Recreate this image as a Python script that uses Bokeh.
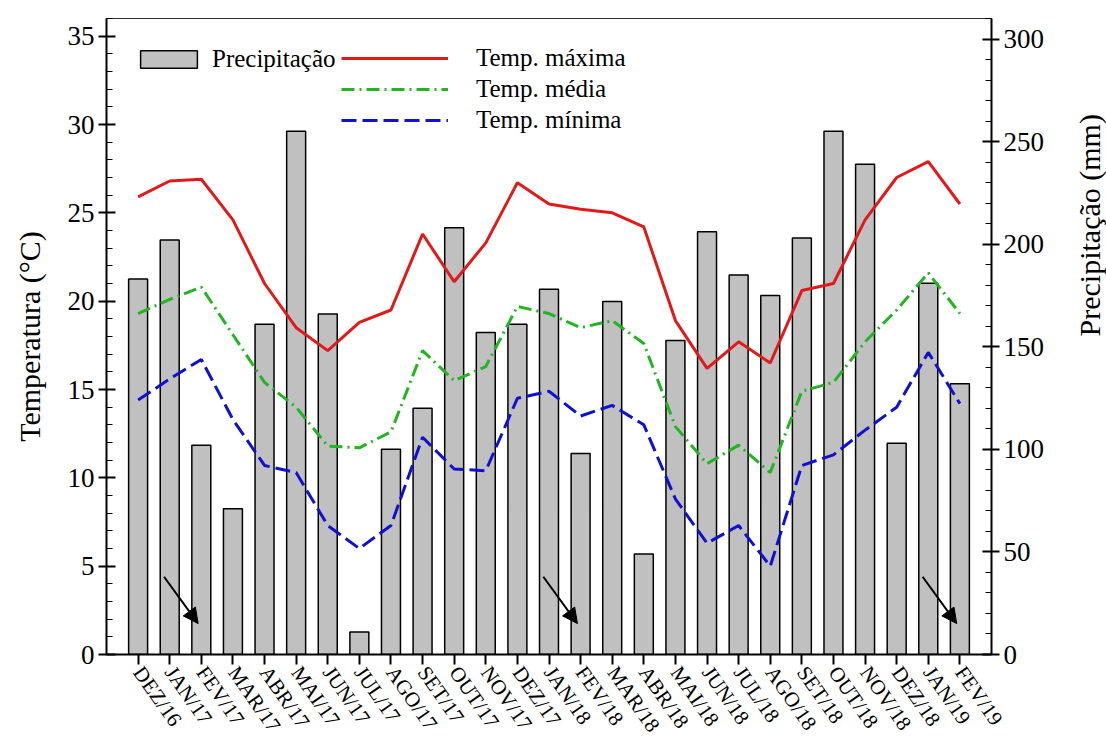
import math
from bokeh.plotting import figure
from bokeh.models import (Range1d, LinearAxis, FixedTicker, SingleIntervalTicker,
                          Legend, LegendItem, Arrow, NormalHead, ColumnDataSource)
from bokeh.embed import file_html
from bokeh.resources import INLINE

months = ["DEZ/16", "JAN/17", "FEV/17", "MAR/17", "ABR/17", "MAI/17", "JUN/17",
          "JUL/17", "AGO/17", "SET/17", "OUT/17", "NOV/17", "DEZ/17", "JAN/18",
          "FEV/18", "MAR/18", "ABR/18", "MAI/18", "JUN/18", "JUL/18", "AGO/18",
          "SET/18", "OUT/18", "NOV/18", "DEZ/18", "JAN/19", "FEV/19"]
precip = [183, 202, 102, 71, 161, 255, 166, 11, 100, 120, 208, 157, 161, 178,
          98, 172, 49, 153, 206, 185, 175, 203, 255, 239, 103, 181, 132]
tmax = [25.9, 26.8, 26.9, 24.6, 21.0, 18.5, 17.2, 18.8, 19.5, 23.8, 21.1, 23.3,
        26.7, 25.5, 25.2, 25.0, 24.2, 18.9, 16.2, 17.7, 16.5, 20.6, 21.0, 24.6,
        27.0, 27.9, 25.5]
tmed = [19.3, 20.1, 20.8, 18.1, 15.4, 14.0, 11.8, 11.7, 12.6, 17.2, 15.5, 16.3,
        19.7, 19.3, 18.5, 18.9, 17.6, 12.9, 10.8, 11.85, 10.3, 14.9, 15.4, 17.7,
        19.5, 21.6, 19.3]
tmin = [14.4, 15.6, 16.7, 13.3, 10.7, 10.3, 7.3, 6.0, 7.3, 12.3, 10.5, 10.4,
        14.5, 14.9, 13.5, 14.1, 13.0, 8.8, 6.3, 7.3, 5.0, 10.7, 11.3, 12.7,
        14.0, 17.1, 14.2]
arrow_months = ["FEV/17", "FEV/18", "FEV/19"]

FONT = "Liberation Serif"
idx = list(range(len(months)))

p = figure(frame_width=885, frame_height=636,
           x_range=Range1d(-1, 27), y_range=Range1d(0, 36),
           output_backend="svg", toolbar_location=None,
           min_border_left=106, min_border_right=112,
           min_border_top=18, min_border_bottom=72)
p.extra_y_ranges = {"precip": Range1d(0, 310)}
p.xgrid.visible = False
p.ygrid.visible = False
p.outline_line_color = "#333333"
p.outline_line_width = 1
p.background_fill_color = "white"
p.border_fill_color = "white"

bars = p.vbar(x=idx, top=precip, width=0.6, bottom=0, y_range_name="precip",
              fill_color="#c0c0c0", line_color="black", line_width=1.5)
r_max = p.line(idx, tmax, line_color="#e01a1a", line_width=3)
r_med = p.line(idx, tmed, line_color="#22b422", line_width=3, line_dash="13 5 2 5")
r_min = p.line(idx, tmin, line_color="#1010d0", line_width=3, line_dash="15 6")

# arrows
ax_idx = [months.index(m) for m in arrow_months]
asrc = ColumnDataSource(dict(xs=[i - 1.18 for i in ax_idx], ys=[4.4] * len(ax_idx),
                             xe=[i - 0.1 for i in ax_idx], ye=[1.75] * len(ax_idx)))
p.add_layout(Arrow(source=asrc, x_start="xs", y_start="ys", x_end="xe", y_end="ye",
                   line_width=2, line_color="black",
                   end=NormalHead(size=15, fill_color="black", line_color="black")))

# left axis
ya = p.yaxis[0]
ya.ticker = SingleIntervalTicker(interval=5, num_minor_ticks=5)
ya.axis_label = "Temperatura (°C)"
# bottom axis
xa = p.xaxis[0]
xa.ticker = FixedTicker(ticks=idx)
xa.major_label_overrides = {i: m for i, m in zip(idx, months)}
xa.major_label_orientation = -55 * math.pi / 180
xa.minor_tick_line_color = None
xa.major_tick_in = 0
xa.major_tick_out = 10

ra = LinearAxis(y_range_name="precip",
                ticker=SingleIntervalTicker(interval=50, num_minor_ticks=5),
                axis_label="Precipitação (mm)")
p.add_layout(ra, "right")

for a in (ya, ra):
    a.major_tick_in = 9
    a.major_tick_out = 8
    a.minor_tick_in = 6
    a.minor_tick_out = 0
    a.major_label_text_font_size = "27px"
    a.axis_label_text_font_size = "30px"
    a.major_label_standoff = 4
for a in (ya, ra, xa):
    a.axis_line_width = 2
    a.axis_line_color = "black"
    a.major_tick_line_width = 2
    a.major_tick_line_color = "black"
    a.minor_tick_line_width = 1
    a.major_label_text_font = FONT
    a.axis_label_text_font = FONT
    a.major_label_text_color = "black"
    a.axis_label_text_color = "black"
    a.axis_label_text_font_style = "normal"
ya.axis_label_standoff = 19
ra.axis_label_standoff = 42
xa.major_label_text_font_size = "21px"
xa.major_label_standoff = 4
ra.minor_tick_line_color = "black"
ya.minor_tick_line_color = "black"
ra.axis_label_orientation = math.pi / 2

leg1 = Legend(items=[LegendItem(label="Precipitação", renderers=[bars])],
              location=(27, 581), glyph_width=71, glyph_height=22,
              label_standoff=8, padding=0, margin=0, border_line_color=None,
              background_fill_alpha=0, label_text_font=FONT,
              label_text_font_size="25px", label_text_color="black")
leg2 = Legend(items=[LegendItem(label="Temp. máxima", renderers=[r_max]),
                     LegendItem(label="Temp. média", renderers=[r_med]),
                     LegendItem(label="Temp. mínima", renderers=[r_min])],
              location=(235, 520), glyph_width=107, glyph_height=18,
              label_standoff=28, padding=0, margin=0, spacing=3,
              border_line_color=None, background_fill_alpha=0,
              label_text_font=FONT, label_text_font_size="25px",
              label_text_color="black")
p.add_layout(leg1, "center")
p.add_layout(leg2, "center")

open("out.html", "w").write(file_html(p, INLINE))
